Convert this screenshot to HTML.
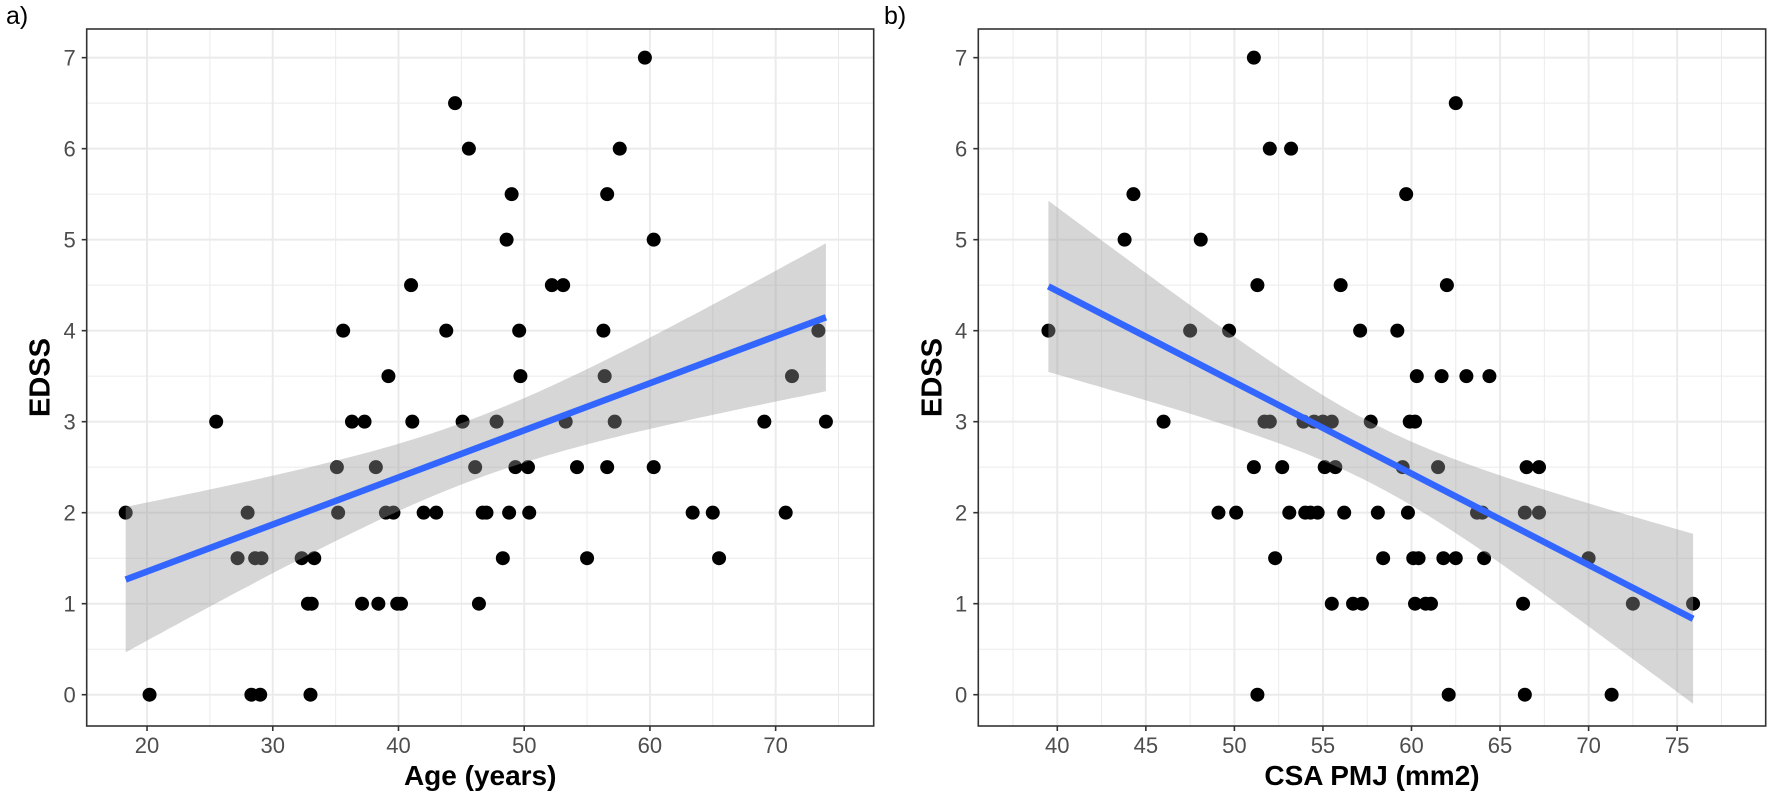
<!DOCTYPE html>
<html><head><meta charset="utf-8"><style>
html,body{margin:0;padding:0;background:#fff;}
svg{display:block;font-family:"Liberation Sans",sans-serif;}
</style></head><body>
<svg id="chart" width="1772" height="798" viewBox="0 0 1772 798" xmlns="http://www.w3.org/2000/svg">
<text x="6" y="24" font-size="25" fill="#000">a)</text>
<text x="884" y="24" font-size="25" fill="#000">b)</text>
</svg>
<script>
// Panel a data: Age vs EDSS
const ageX = [18.3,20.2,25.5,27.2,28,28.3,28.6,29,29.1,32.3,32.8,33,33.1,33.3,35.1,35.2,35.6,36.3,37.1,37.3,38.2,38.4,39,39.2,39.6,39.9,40.2,41,41.1,42,43,43.8,44.5,45.1,45.6,46.1,46.4,46.7,47,47.8,48.3,48.6,48.8,49,49.3,49.6,49.7,50.3,50.4,52.2,53.1,53.3,54.2,55,56.3,56.4,56.6,56.6,57.2,57.6,59.6,60.3,60.3,63.4,65,65.5,69.1,70.8,71.3,73.4,74];
const ageY = [2,0,3,1.5,2,0,1.5,0,1.5,1.5,1,0,1,1.5,2.5,2,4,3,1,3,2.5,1,2,3.5,2,1,1,4.5,3,2,2,4,6.5,3,6,2.5,1,2,2,3,1.5,5,2,5.5,2.5,4,3.5,2.5,2,4.5,4.5,3,2.5,1.5,4,3.5,5.5,2.5,3,6,7,5,2.5,2,2,1.5,3,2,3.5,4,3];
// Panel b data: CSA PMJ vs EDSS
const csaX = [39.5,43.8,44.3,46,47.5,48.1,49.1,49.7,50.1,51.1,51.1,51.3,51.3,51.7,52,52,52.3,52.7,53.1,53.2,53.9,54,54.3,54.5,54.7,55,55.1,55.5,55.5,55.7,56,56.2,56.7,57.1,57.2,57.7,58.1,58.4,59.2,59.5,59.7,59.8,59.9,60.1,60.2,60.2,60.3,60.4,60.8,61.1,61.5,61.7,61.8,62,62.1,62.5,62.5,63.1,63.7,64,64.1,64.4,66.3,66.4,66.4,66.5,67.2,67.2,70,71.3,72.5,75.9];
const csaY = [4,5,5.5,3,4,5,2,4,2,7,2.5,4.5,0,3,3,6,1.5,2.5,2,6,3,2,2,3,2,3,2.5,1,3,2.5,4.5,2,1,4,1,3,2,1.5,4,2.5,5.5,2,3,1.5,3,1,3.5,1.5,1,1,2.5,3.5,1.5,4.5,0,1.5,6.5,3.5,2,2,1.5,3.5,1,0,2,2.5,2.5,2,1.5,0,1,1];
const ageTicks = [20,30,40,50,60,70];
const csaTicks = [40,45,50,55,60,65,70,75];
const yTicks = [0,1,2,3,4,5,6,7];

const svg = document.getElementById('chart');
const NS = 'http://www.w3.org/2000/svg';
function mk(tag, attrs, parent){const e=document.createElementNS(NS,tag);for(const k in attrs)e.setAttribute(k,attrs[k]);(parent||svg).appendChild(e);return e;}

function panel(p){
  const g = mk('g',{});
  
  
  const sx = v => p.L + (v - p.xmin)/(p.xmax - p.xmin)*(p.R - p.L);
  const sy = v => p.B - (v - p.ymin)/(p.ymax - p.ymin)*(p.B - p.T);
  for(let v=p.minorStart; v<p.xmax; v+=p.minorStep){ if(v<=p.xmin) continue;
    const l=mk('line',{x1:sx(v),x2:sx(v),y1:p.T,y2:p.B,stroke:'#ebebeb','stroke-width':1},g);
    
    }
  for(let v=-0.5; v<p.ymax; v+=1){ if(v<=p.ymin) continue;
    const l=mk('line',{x1:p.L,x2:p.R,y1:sy(v),y2:sy(v),stroke:'#ebebeb','stroke-width':1},g);
    
    }
  p.xt.forEach(v=>{const l=mk('line',{x1:sx(v),x2:sx(v),y1:p.T,y2:p.B,stroke:'#ebebeb','stroke-width':2},g);
    
    });
  yTicks.forEach(v=>{const l=mk('line',{x1:p.L,x2:p.R,y1:sy(v),y2:sy(v),stroke:'#ebebeb','stroke-width':2},g);
    
    });
  p.xs.forEach((x,i)=>{const c=mk('circle',{cx:sx(x),cy:sy(p.ys[i]),r:7,fill:'#000'},g);
    
    });
  const n=p.xs.length; const xm=p.xs.reduce((a,b)=>a+b,0)/n; const ym=p.ys.reduce((a,b)=>a+b,0)/n;
  let sxx=0,sxy=0; p.xs.forEach((x,i)=>{sxx+=(x-xm)**2;sxy+=(x-xm)*(p.ys[i]-ym);});
  const b=sxy/sxx, a=ym-b*xm;
  let sse=0; p.xs.forEach((x,i)=>{sse+=(p.ys[i]-a-b*x)**2;});
  const s=Math.sqrt(sse/(n-2)), t=1.995;
  const x0=Math.min(...p.xs), x1=Math.max(...p.xs);
  const up=[],lo=[];
  for(let k=0;k<=80;k++){const x=x0+(x1-x0)*k/80;const f=a+b*x;const se=s*Math.sqrt(1/n+(x-xm)**2/sxx);
    up.push(sx(x).toFixed(1)+','+sy(f+t*se).toFixed(1));lo.unshift(sx(x).toFixed(1)+','+sy(f-t*se).toFixed(1));}
  const rib=mk('polygon',{points:up.concat(lo).join(' '),fill:'#999999','fill-opacity':0.4},g);
  
  
  const ln=mk('line',{x1:sx(x0),y1:sy(a+b*x0),x2:sx(x1),y2:sy(a+b*x1),stroke:'#3366ff','stroke-width':6.5},g);
  
  
  const r=mk('rect',{x:p.L,y:p.T,width:p.R-p.L,height:p.B-p.T,fill:'none',stroke:'#333','stroke-width':1.6},g);
  
  
  p.xt.forEach(v=>{mk('line',{x1:sx(v),x2:sx(v),y1:p.B,y2:p.B+5,stroke:'#333','stroke-width':1.6},g);
    const tx=mk('text',{x:sx(v),y:p.B+27,'font-size':22,fill:'#4d4d4d','text-anchor':'middle'},g);tx.textContent=v;
    
    });
  yTicks.forEach(v=>{mk('line',{x1:p.L-5,x2:p.L,y1:sy(v),y2:sy(v),stroke:'#333','stroke-width':1.6},g);
    const tx=mk('text',{x:p.L-11,y:sy(v)+8,'font-size':22,fill:'#4d4d4d','text-anchor':'end'},g);tx.textContent=v;
    
    });
  const xt=mk('text',{x:(p.L+p.R)/2,y:p.B+59,'font-size':28,'font-weight':'bold','text-anchor':'middle',fill:'#000'},g);
  xt.textContent=p.xlab;
  
  
  const yx=p.L-37, yc=(p.T+p.B)/2;
  const yt=mk('text',{x:yx,y:yc,'font-size':29,'font-weight':'bold','text-anchor':'middle',fill:'#000',transform:`rotate(-90 ${yx} ${yc})`},g);
  yt.textContent='EDSS';
  
  
}
panel({id:'age',L:86.7,R:873.7,T:29,B:726,xmin:15.2,xmax:77.8,ymin:-0.344,ymax:7.315,xt:ageTicks,minorStart:15,minorStep:10,xs:ageX,ys:ageY,xlab:'Age (years)'});
panel({id:'csa',L:978.3,R:1765.7,T:29,B:726,xmin:35.54,xmax:80.0,ymin:-0.344,ymax:7.315,xt:csaTicks,minorStart:37.5,minorStep:5,xs:csaX,ys:csaY,xlab:'CSA PMJ (mm2)'});
</script>
</body></html>
